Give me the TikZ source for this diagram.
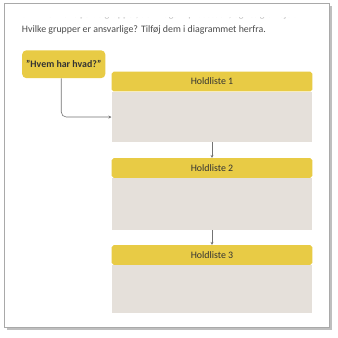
\documentclass[tikz,border=0pt]{standalone}
\usepackage{fontspec}
\setmainfont{Carlito}
\usepackage{xcolor}
\usetikzlibrary{arrows.meta,positioning}
\definecolor{listyellow}{HTML}{E8CB45}
\definecolor{listgray}{HTML}{E5E0DA}
\definecolor{framegray}{HTML}{A9A9A9}
\tikzset{
  listhead/.style={fill=listyellow, minimum width=203pt, minimum height=20pt,
    inner sep=0pt, font=\fontsize{10}{11}\selectfont, text=black!80},
  listbody/.style={fill=listgray, minimum width=203pt, inner sep=0pt},
  linkarrow/.style={draw=black!55, line width=0.6pt, -{Stealth[length=3pt,width=3pt]}}
}
\begin{document}
\begin{tikzpicture}[x=1pt, y=-1pt]
\useasboundingbox (0,0) rectangle (341,342);
% page
\fill[black!25] (7,6) rectangle (336,334);
\fill[white] (4,3) rectangle (333,331);
\draw[framegray, line width=0.8pt] (4,3) rectangle (333,331);
% text above, first line cut off by the page edge
\begin{scope}
\clip (10,17.5) rectangle (330,40);
\node[anchor=base west, inner sep=0pt, text=black!25, font=\fontsize{10}{11}\selectfont]
  at (22,18) {Skriv navnene på de grupper, der indgår i processen, og vælg en ejer.};
\end{scope}
\node[anchor=base west, inner sep=0pt, text=black!70, font=\fontsize{10}{11}\selectfont]
  (intro) at (22,33) {Hvilke grupper er ansvarlige? Tilføj dem i diagrammet herfra.};
% question box
\node[fill=listyellow, rounded corners=4pt, minimum width=84pt, minimum height=28pt,
  inner sep=0pt, font=\bfseries\fontsize{10}{11}\selectfont, text=black!80]
  (quest) at (64.5,65) {"Hvem har hvad?"};
% lists
\node[listhead, rounded corners=2pt] (head1) at (214.5,82.5) {Holdliste 1};
\node[listbody, minimum height=51pt, below=0pt of head1] (body1) {};
\node[listhead, rounded corners=2pt] (head2) at (214.5,170) {Holdliste 2};
\node[listbody, minimum height=52pt, below=0pt of head2] (body2) {};
\node[listhead, rounded corners=2pt] (head3) at (214.5,258) {Holdliste 3};
\node[listbody, minimum height=48pt, below=0pt of head3] (body3) {};
% connectors
\draw[linkarrow, rounded corners=5pt] ([xshift=-2.5pt]quest.south) |- (body1.west);
\draw[linkarrow] (body1.south) -- (head2.north);
\draw[linkarrow] (body2.south) -- (head3.north);
\end{tikzpicture}
\end{document}
